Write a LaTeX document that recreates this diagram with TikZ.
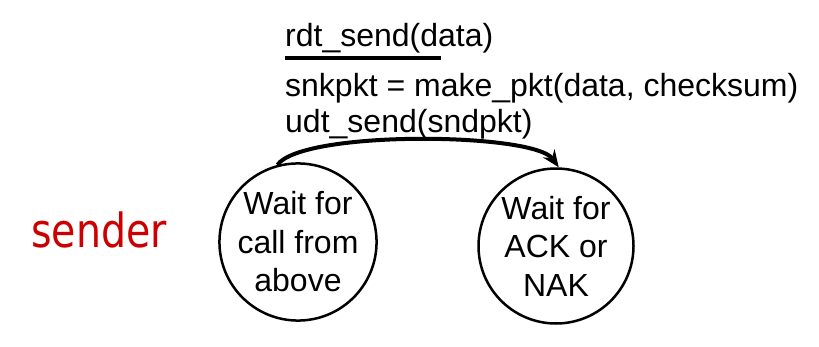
\documentclass[tikz,border=0pt]{standalone}
\usepackage{fontspec}
\setmainfont{Liberation Sans}
\newfontfamily\senderfont[FakeStretch=0.84]{DejaVu Sans}
\usetikzlibrary{arrows.meta}
\definecolor{senderred}{RGB}{204,0,0}
\tikzset{
  fsmstate/.style={draw, circle, line width=2.5pt, minimum size=155pt, inner sep=0pt,
    align=center, font=\fontsize{32}{38.5}\selectfont},
  action/.style={anchor=base west, inner sep=0pt, font=\fontsize{32}{36}\selectfont},
  trans/.style={line width=4pt, -{Stealth[length=17pt, width=14pt]}}
}
\begin{document}
\begin{tikzpicture}[x=1pt,y=1pt]
  \useasboundingbox (0,0) rectangle (819,346);
  % States
  \node[fsmstate] (waitcall) at (298,104) {Wait for\\call from\\above};
  \node[fsmstate] (waitack) at (556,100) {Wait for\\ACK or\\NAK};
  % Side label
  \node[anchor=base west, inner sep=0pt, text=senderred,
    font=\senderfont\fontsize{47}{56}\selectfont] (sender) at (31,99) {sender};
  % Event and actions
  \node[action] (event) at (285,299) {rdt\_send(data)};
  \draw[line width=4pt] (285,288) -- (441,288);
  \node[action] (act1) at (285,249) {snkpkt = make\_pkt(data, checksum)};
  \node[action] (act2) at (285,213) {udt\_send(sndpkt)};
  % Transition
  \draw[trans] (waitcall.105) .. controls +(25,35) and +(-25,35) .. (waitack.88);
\end{tikzpicture}
\end{document}
